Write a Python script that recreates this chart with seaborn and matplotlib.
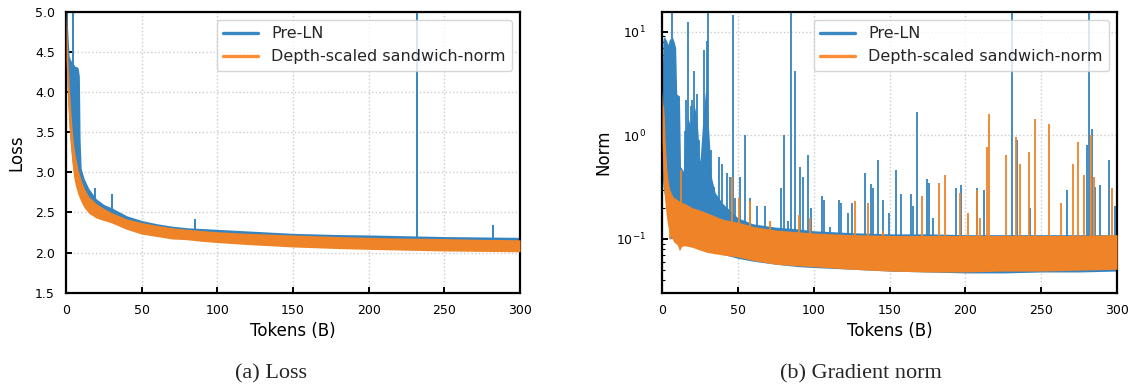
import numpy as np
import pandas as pd
import matplotlib
matplotlib.use('Agg')
import matplotlib.pyplot as plt
from matplotlib.lines import Line2D
import seaborn as sns

BLUE = '#3584c0'
ORANGE = '#ee8427'

# ---- (a) Loss: band envelopes (lower / upper) ----
loss_x = [0, 1, 2, 3, 4, 5, 6, 8, 10, 12, 15, 20, 25, 30, 40, 50, 60, 70, 80,
          90, 100, 120, 150, 180, 200, 225, 250, 275, 300]
sand_loss_lo = [4.40, 3.90, 3.55, 3.30, 3.10, 2.95, 2.85, 2.72, 2.63, 2.56, 2.49,
                2.43, 2.40, 2.37, 2.29, 2.23, 2.20, 2.17, 2.16, 2.14, 2.125, 2.10,
                2.07, 2.05, 2.04, 2.03, 2.02, 2.015, 2.01]
sand_loss_hi = [5.05, 4.50, 4.10, 3.80, 3.55, 3.35, 3.22, 3.03, 2.90, 2.80, 2.70,
                2.61, 2.55, 2.50, 2.42, 2.375, 2.34, 2.31, 2.29, 2.275, 2.26, 2.24,
                2.22, 2.20, 2.19, 2.18, 2.175, 2.165, 2.16]
preln_loss_x = [0, 1, 2, 3, 4, 5, 6, 7, 8, 8.8, 9.3, 10, 12, 15, 20, 25, 30, 40,
                50, 60, 70, 80, 90, 100, 120, 150, 180, 200, 225, 250, 275, 300]
preln_loss_lo = [4.45, 3.95, 3.60, 3.35, 3.15, 3.00, 2.90, 2.83, 2.77, 2.73, 2.71,
                 2.68, 2.60, 2.53, 2.46, 2.43, 2.40, 2.32, 2.26, 2.23, 2.20, 2.19,
                 2.17, 2.155, 2.13, 2.10, 2.08, 2.07, 2.06, 2.05, 2.045, 2.04]
preln_loss_hi = [5.10, 4.80, 4.45, 4.40, 4.38, 4.35, 4.32, 4.32, 4.30, 4.20, 3.40,
                 3.05, 2.92, 2.80, 2.67, 2.60, 2.56, 2.46, 2.40, 2.36, 2.33, 2.31,
                 2.30, 2.29, 2.27, 2.24, 2.225, 2.22, 2.21, 2.20, 2.195, 2.19]
preln_loss_spike_x = [0.8, 4.5, 19.4, 23.4, 27.0, 30.5, 85.2, 231.8, 282.3]
preln_loss_spike_lo = [4.6, 4.0, 2.55, 2.50, 2.47, 2.45, 2.25, 2.15, 2.12]
preln_loss_spike_top = [5.1, 5.1, 2.80, 2.62, 2.57, 2.73, 2.42, 5.1, 2.34]

# ---- (b) Gradient norm: band envelopes and spikes ----
sand_norm_x = [0, 0.5, 1, 1.5, 2, 3, 4, 5, 6, 7, 8, 10, 11.5, 13, 15, 20, 25, 30,
               40, 50, 60, 75, 90, 100, 125, 150, 175, 200, 225, 250, 275, 300]
sand_norm_lo = [0.90, 0.50, 0.33, 0.27, 0.22, 0.16, 0.13, 0.115, 0.105, 0.098,
                0.093, 0.088, 0.077, 0.085, 0.086, 0.083, 0.078, 0.074, 0.070,
                0.067, 0.062, 0.057, 0.055, 0.054, 0.051, 0.049, 0.048, 0.048,
                0.049, 0.049, 0.050, 0.051]
sand_norm_hi = [2.8, 2.0, 1.9, 1.5, 0.9, 0.5, 0.36, 0.30, 0.28, 0.26, 0.25, 0.24,
                0.23, 0.225, 0.22, 0.20, 0.19, 0.178, 0.155, 0.145, 0.132, 0.122,
                0.117, 0.114, 0.110, 0.108, 0.108, 0.108, 0.108, 0.108, 0.108, 0.110]
preln_norm_x = [0, 0.7, 1.5, 3, 4, 5, 6, 7, 8, 9, 9.7, 11.5, 12.2, 14, 15, 17, 19,
                21, 23, 25, 27, 29, 31, 32.5, 35, 40, 50, 60, 75, 90, 100, 125,
                150, 175, 200, 225, 250, 275, 300]
preln_norm_lo = [0.45, 0.32, 0.27, 0.20, 0.16, 0.13, 0.11, 0.10, 0.097, 0.093,
                 0.091, 0.089, 0.088, 0.087, 0.087, 0.086, 0.085, 0.084, 0.082,
                 0.080, 0.079, 0.078, 0.077, 0.076, 0.074, 0.071, 0.065, 0.061,
                 0.057, 0.054, 0.053, 0.051, 0.049, 0.048, 0.047, 0.047, 0.048,
                 0.048, 0.049]
preln_norm_hi = [3.0, 8.5, 9.0, 8.2, 7.5, 8.6, 8.3, 8.8, 8.0, 7.0, 2.5, 2.4, 0.5,
                 0.45, 1.0, 1.5, 1.2, 2.0, 1.5, 0.55, 1.5, 3.0, 1.0, 0.4, 0.28,
                 0.22, 0.16, 0.14, 0.13, 0.125, 0.12, 0.115, 0.112, 0.112, 0.11,
                 0.11, 0.11, 0.11, 0.11]
preln_norm_spike_x = [6.3, 14.9, 15.9, 17.3, 18.8, 20.0, 21.4, 22.9, 24.3, 25.8,
                      27.9, 29.4, 30.6, 32.0, 34.0, 37.6, 39.3, 42.9, 45.0, 46.5,
                      48.4, 51.5, 54.9, 58.0, 62.9, 67.7, 78.5, 80.4, 83.3, 85.3,
                      87.9, 91.0, 93.0, 96.1, 98.5, 105.2, 106.7, 111.0, 116.6,
                      118.0, 122.3, 125.5, 133.7, 138.0, 139.4, 142.1, 146.0, 149.6,
                      154.6, 157.7, 164.0, 165.7, 168.3, 174.6, 176.0, 178.5, 194.0,
                      197.0, 207.4, 212.2, 231.0, 233.9, 242.3, 267.1, 280.1, 281.6,
                      283.2, 285.6, 288.8, 294.8, 298.4]
preln_norm_spike_top = [16.0, 1.1, 2.2, 12.4, 1.9, 2.2, 4.2, 2.5, 0.9, 0.57,
                        6.6, 8.2, 15.0, 0.72, 0.32, 0.62, 0.53, 0.43, 0.40, 14.4,
                        0.25, 0.40, 1.0, 0.25, 0.21, 0.21, 0.31, 1.0, 0.15, 17.0,
                        4.2, 0.50, 0.40, 0.64, 0.20, 0.26, 0.24, 0.13, 0.24,
                        0.22, 0.18, 0.22, 0.43, 0.34, 0.31, 0.58, 0.24, 0.18,
                        0.46, 0.27, 0.27, 0.21, 1.68, 0.38, 0.35, 0.16, 0.31,
                        0.33, 0.31, 0.30, 16.0, 0.90, 0.20, 0.30, 0.80, 16.0,
                        1.16, 0.32, 0.33, 0.58, 0.21]
sand_norm_spike_x = [5.0, 12.8, 46.0, 50.8, 58.0, 71.3, 90.6, 97.8, 127.4, 135.6,
                     146.0, 171.2, 182.6, 186.9, 196.5, 201.8, 207.8, 209.8, 214.1,
                     215.8, 227.1, 233.4, 235.8, 241.8, 245.9, 255.1, 263.3, 271.2,
                     274.3, 278.4, 282.8, 284.9, 296.5]
sand_norm_spike_top = [0.29, 0.46, 0.40, 0.25, 0.23, 0.15, 0.17, 0.16, 0.23, 0.22,
                       0.12, 0.26, 0.35, 0.41, 0.28, 0.18, 0.30, 0.16, 0.77,
                       1.60, 0.64, 0.96, 0.53, 0.69, 1.45, 1.30, 0.22, 0.53,
                       0.86, 0.41, 1.00, 0.40, 0.31]


def band_frame(x, lo, hi):
    return pd.DataFrame({'x': list(x) * 2, 'y': list(lo) + list(hi)})


def draw_band(ax, x, lo, hi, color, z):
    sns.lineplot(data=band_frame(x, lo, hi), x='x', y='y', ax=ax,
                 estimator='mean', errorbar=('pi', 100), color=color, lw=0,
                 err_kws={'alpha': 1, 'lw': 0, 'zorder': z}, legend=False)


def style_axes(ax, ypad):
    ax.grid(True, which='major', ls=':', lw=1.0, color='#cccccc')
    for s in ax.spines.values():
        s.set_linewidth(1.6)
        s.set_color('black')
    ax.tick_params(which='major', direction='in', length=4, width=1.4,
                   labelsize=9, labelcolor='black', color='black',
                   left=True, bottom=True, top=False, right=False, pad=8)
    ax.tick_params(axis='y', which='major', pad=ypad)
    ax.tick_params(which='minor', direction='in', length=2, width=0.8,
                   color='black', left=True, bottom=False, top=False, right=False)
    ax.set_xlim(0, 300)
    ax.set_xticks([0, 50, 100, 150, 200, 250, 300])
    ax.set_xlabel('Tokens (B)', fontsize=12, color='black')
    handles = [Line2D([], [], color='#3a88c3', lw=2.4, label='Pre-LN'),
               Line2D([], [], color='#fd8e35', lw=2.4, label='Depth-scaled sandwich-norm')]
    ax.legend(handles=handles, loc='upper right', fontsize=11.5,
              handlelength=2.2, framealpha=0.8)


sns.set_style('white')
fig = plt.figure(figsize=(11.33, 3.87), dpi=100)
ax1 = fig.add_axes([0.0583, 0.2437, 0.4007, 0.7253])
ax2 = fig.add_axes([0.5843, 0.2437, 0.4016, 0.7253])

# Loss panel
draw_band(ax1, preln_loss_x, preln_loss_lo, preln_loss_hi, BLUE, 2)
ax1.vlines(preln_loss_spike_x, preln_loss_spike_lo, preln_loss_spike_top,
           color=BLUE, lw=1.4, zorder=2.1)
draw_band(ax1, loss_x, sand_loss_lo, sand_loss_hi, ORANGE, 3)
ax1.set_ylim(1.5, 5.0)
ax1.set_yticks([1.5, 2.0, 2.5, 3.0, 3.5, 4.0, 4.5, 5.0])
ax1.set_ylabel('Loss', fontsize=12, color='black')
style_axes(ax1, 8)
ax1.yaxis.set_label_coords(-0.089, 0.5)

# Gradient norm panel
ax2.set_yscale('log')
draw_band(ax2, preln_norm_x, preln_norm_lo, preln_norm_hi, BLUE, 2)
ax2.vlines(preln_norm_spike_x, 0.1, preln_norm_spike_top, color=BLUE, lw=1.3, zorder=2.1)
draw_band(ax2, sand_norm_x, sand_norm_lo, sand_norm_hi, ORANGE, 3)
ax2.vlines(sand_norm_spike_x, 0.1, sand_norm_spike_top, color=ORANGE, lw=1.3, zorder=3.1)
ax2.set_ylim(0.0303, 15.5)
ax2.set_ylabel('Norm', fontsize=12, color='black')
style_axes(ax2, 11.5)
ax2.yaxis.set_label_coords(-0.1095, 0.5)

fig.text(271 / 1133, 1 - 374 / 387, '(a) Loss', ha='center', va='center',
         fontsize=16, family='Liberation Serif')
fig.text(861 / 1133, 1 - 374 / 387, '(b) Gradient norm', ha='center', va='center',
         fontsize=16, family='Liberation Serif')

fig.savefig('out.png', dpi=100)
